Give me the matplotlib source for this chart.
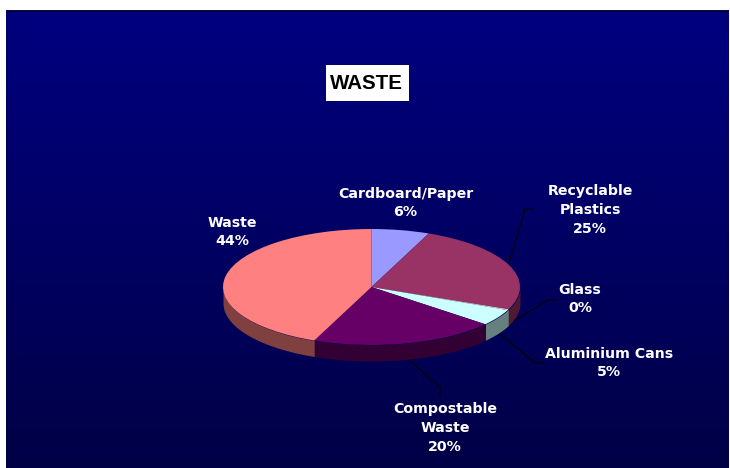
import numpy as np
import matplotlib
matplotlib.use('Agg')
import matplotlib.pyplot as plt
from matplotlib.patches import Rectangle

categories = ['Cardboard/Paper', 'Recyclable\nPlastics', 'Glass', 'Aluminium Cans', 'Compostable\nWaste', 'Waste']
values = [6.3, 25.0, 0.2, 4.6, 20.2, 43.7]
top_colors = ['#9999FF', '#993366', '#FFFFCC', '#CCFFFF', '#660066', '#FF8080']
rim_colors = ['#4D4D80', '#4D1933', '#808066', '#668080', '#330033', '#804040']

W, H = 730, 468
fig = plt.figure(figsize=(W / 100, H / 100), dpi=100, facecolor='white')

# background, in pixel coords
bg = fig.add_axes([0, 0, 1, 1])
bg.axis('off')
grad = np.zeros((256, 1, 3))
grad[:, 0, 2] = np.linspace(128, 70, 256) / 255
bg.imshow(grad, extent=(6, 729, H, 10), aspect='auto', zorder=0)
bg.set_xlim(0, W)
bg.set_ylim(H, 0)
bg.plot([6.5, 6.5, 728], [H, 10.5, 10.5], color='black', lw=0.8, solid_capstyle='butt', zorder=1)

# squashed pie with a rim
cx, cy, a, b, depth = 371.5, 287, 148.5, 58, 16
ax = fig.add_axes([(cx - a) / W, (H - cy - b) / H, 2 * a / W, 2 * b / H])
ax.patch.set_visible(False)
edges = np.cumsum([0] + values) / sum(values) * 2 * np.pi
for i in range(len(values)):
    t0 = max(edges[i], np.pi / 2)
    t1 = min(edges[i + 1], 3 * np.pi / 2)
    if t1 <= t0:
        continue
    t = np.linspace(t0, t1, 80)
    ax.fill_between(np.sin(t), np.cos(t), np.cos(t) - depth / b, color=rim_colors[i],
                    lw=0, clip_on=False)
ax.pie(values, colors=top_colors, startangle=90, counterclock=False, radius=1,
       wedgeprops={'linewidth': 0})
ax.set_aspect('auto')
ax.set_xlim(-1, 1)
ax.set_ylim(-1, 1)
for p in ax.patches:
    p.set_clip_on(False)

# leader lines
leaders = [([509, 525, 533], [263, 209, 209]),
           ([507, 548, 556], [325, 300, 300]),
           ([499, 535, 543], [333, 363, 363]),
           ([407, 440, 440], [359, 387, 397])]
for xs, ys in leaders:
    bg.plot(xs, ys, color='black', lw=0.8, zorder=2)

# labels
label_pos = [(405.5, 203), (590, 210), (580, 299), (609, 363), (445, 428), (232, 232)]
for name, val, (x, y) in zip(categories, values, label_pos):
    bg.text(x, y, '%s\n%d%%' % (name, round(val)), color='white', ha='center', va='center',
            family='DejaVu Sans', weight='bold', fontsize=10.2, linespacing=1.45, zorder=3)

bg.add_patch(Rectangle((326, 65), 83, 36, facecolor='white', edgecolor='none', zorder=2))
bg.text(366.5, 83.5, 'WASTE', color='black', ha='center', va='center', family='Liberation Sans',
        weight='bold', fontsize=14.8, zorder=3)

fig.savefig('out.png', dpi=100)
